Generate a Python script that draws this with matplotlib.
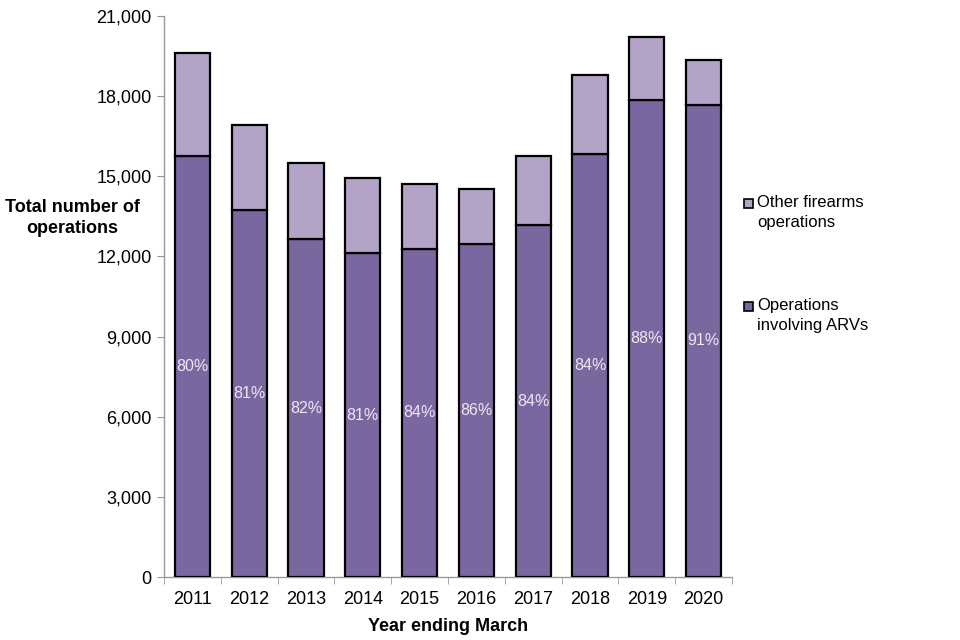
import matplotlib
matplotlib.use("Agg")
import matplotlib.pyplot as plt
from matplotlib.patches import Rectangle
import numpy as np

plt.rcParams['font.family'] = ['Liberation Sans', 'DejaVu Sans']

years = ["2011", "2012", "2013", "2014", "2015", "2016", "2017", "2018", "2019", "2020"]
arv_ops = [15760, 13730, 12650, 12120, 12280, 12460, 13170, 15840, 17870, 17680]
total_ops = [19600, 16920, 15490, 14930, 14700, 14540, 15770, 18790, 20210, 19370]
pct_labels = ["80%", "81%", "82%", "81%", "84%", "86%", "84%", "84%", "88%", "91%"]
other_ops = [t - a for t, a in zip(total_ops, arv_ops)]

dark = "#7B67A0"
light = "#B3A3C7"

fig = plt.figure(figsize=(9.6, 6.4), dpi=100)
ax = fig.add_axes([164/960, 1-577/640, (732-164)/960, (577-16)/640])

x = np.arange(len(years))
w = 0.62
ax.bar(x, arv_ops, width=w, color=dark, edgecolor="black", linewidth=1.6, zorder=3)
ax.bar(x, other_ops, width=w, bottom=arv_ops, color=light, edgecolor="black", linewidth=1.6, zorder=3)

for xi, a, lab in zip(x, arv_ops, pct_labels):
    ax.text(xi, a/2, lab, ha="center", va="center", color="#EDE6F5", fontsize=11.5, zorder=4)

ax.set_xlim(-0.5, len(years)-0.5)
ax.set_ylim(0, 21000)
ax.set_yticks(np.arange(0, 21001, 3000))
ax.set_yticklabels([f"{v:,}" for v in range(0, 21001, 3000)], fontsize=13)
ax.set_xticks(x)
ax.set_xticklabels(years, fontsize=13)
ax.set_xticks(np.arange(-0.5, len(years), 1), minor=True)
ax.tick_params(axis="x", which="major", length=0, pad=10)
ax.tick_params(axis="x", which="minor", length=5, color="#999999", direction="out")
ax.tick_params(axis="y", length=5, color="#999999", direction="out", pad=4)

for s in ["top", "right"]:
    ax.spines[s].set_visible(False)
for s in ["left", "bottom"]:
    ax.spines[s].set_color("#999999")
    ax.spines[s].set_linewidth(1.0)

ax.set_xlabel("Year ending March", fontsize=13, fontweight="bold", labelpad=7)
fig.text(72/960, 1-218/640, "Total number of\noperations", ha="center", va="center",
         fontsize=13, fontweight="bold", linespacing=1.25)

# legend
leg_items = [("Other firearms\noperations", light, 203), ("Operations\ninvolving ARVs", dark, 306)]
for lab, col, yc in leg_items:
    fig.patches.append(Rectangle((744/960, 1-(yc+4.5)/640), 9/960, 9/640, transform=fig.transFigure,
                                 facecolor=col, edgecolor="black", linewidth=1.2))
    fig.text(757/960, 1-(yc-8)/640, lab, ha="left", va="top", fontsize=12, linespacing=1.38)

fig.savefig("out.png", dpi=100)
